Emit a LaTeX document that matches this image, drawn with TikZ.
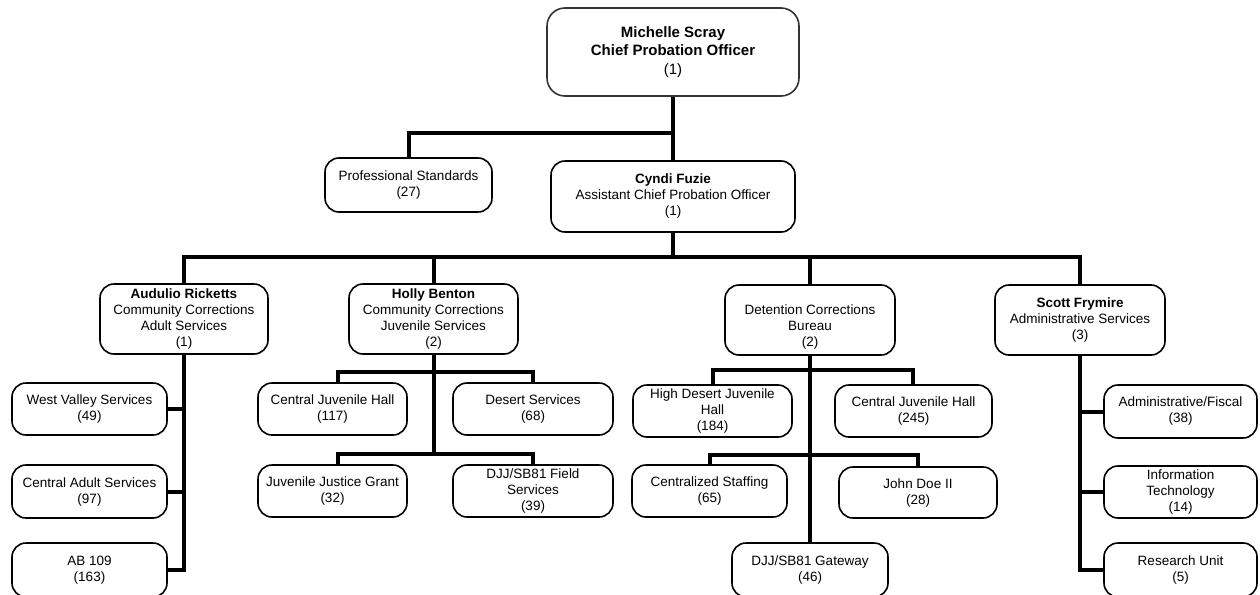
\documentclass[tikz,border=0pt]{standalone}
\usepackage{fontspec}
\setmainfont{Liberation Sans}
\pgfdeclarelayer{bg}
\pgfsetlayers{bg,main}
\begin{document}
\begin{tikzpicture}[x=1pt,y=-1pt,
  box/.style={draw=black, line width=1.6pt, rounded corners=14pt, fill=white,
    align=center, inner sep=0pt, font=\fontsize{13.5}{16}\selectfont},
  topbox/.style={box, draw=black!80, rounded corners=18pt, font=\fontsize{15}{18.5}\selectfont\bfseries},
  plain/.style={align=center, inner sep=0pt, font=\fontsize{13.5}{16}\selectfont},
  conn/.style={line width=4pt, line cap=rect, line join=miter, draw=black}]
\useasboundingbox (0,0) rectangle (1260,594);

% top
\node[topbox, minimum width=252pt, minimum height=88pt] (chief) at (673,52) {Michelle Scray\\Chief Probation Officer\\{\mdseries (1)}};
\node[box, minimum width=167pt, minimum height=54pt] (prof) at (408.5,185) {Professional Standards\\(27)};
\node[box, minimum width=244pt, minimum height=71pt] (cyndi) at (673,196.5) {\textbf{Cyndi Fuzie}\\Assistant Chief Probation Officer\\(1)};

% level 2
\node[box, minimum width=168pt, minimum height=70pt] (aud) at (184,319) {\textbf{Audulio Ricketts}\\Community Corrections\\Adult Services\\(1)};
\node[box, minimum width=169pt, minimum height=70pt] (holly) at (433.5,319) {\textbf{Holly Benton}\\Community Corrections\\Juvenile Services\\(2)};
\node[box, minimum width=170pt, minimum height=70pt] (det) at (810,320) {};
\node[plain] (dettext) at (810,327) {Detention Corrections\\Bureau\\(2)};
\node[box, minimum width=170pt, minimum height=70pt] (scott) at (1080,320) {\textbf{Scott Frymire}\\Administrative Services\\(3)};

% adult services
\node[box, minimum width=155pt, minimum height=52pt] (wv) at (89.5,409) {West Valley Services\\(49)};
\node[box, minimum width=155pt, minimum height=53pt] (cas) at (89.5,491.5) {Central Adult Services\\(97)};
\node[box, minimum width=155pt, minimum height=54pt] (ab) at (89.5,570) {AB 109\\(163)};

% juvenile services
\node[box, minimum width=149pt, minimum height=52pt] (cjha) at (332.5,409) {Central Juvenile Hall\\(117)};
\node[box, minimum width=160pt, minimum height=52pt] (des) at (533,409) {Desert Services\\(68)};
\node[box, minimum width=149pt, minimum height=52pt] (jjg) at (332.5,491) {Juvenile Justice Grant\\(32)};
\node[box, minimum width=160pt, minimum height=52pt] (djj) at (533,491) {DJJ/SB81 Field\\Services\\(39)};

% detention
\node[box, minimum width=159pt, minimum height=52pt] (hdjh) at (712.5,411) {High Desert Juvenile\\Hall\\(184)};
\node[box, minimum width=157pt, minimum height=52pt] (cjhb) at (913.5,411) {Central Juvenile Hall\\(245)};
\node[box, minimum width=155pt, minimum height=52pt] (cs) at (709.5,491) {Centralized Staffing\\(65)};
\node[box, minimum width=158pt, minimum height=51pt] (jd) at (918,492.5) {John Doe II\\(28)};
\node[box, minimum width=156pt, minimum height=54pt] (gw) at (810,570) {DJJ/SB81 Gateway\\(46)};

% administrative
\node[box, minimum width=153pt, minimum height=53pt] (af) at (1180.5,411.5) {Administrative/Fiscal\\(38)};
\node[box, minimum width=153pt, minimum height=52pt] (it) at (1180.5,492) {Information\\Technology\\(14)};
\node[box, minimum width=153pt, minimum height=54pt] (ru) at (1180.5,570) {Research Unit\\(5)};

\coordinate (j1) at (673,133);
\coordinate (j2) at (673,257);
\coordinate (ja) at (184,257);
\coordinate (jf) at (1080,257);
\coordinate (hj1) at (338,372);
\coordinate (hj2) at (533,372);
\coordinate (hj3) at (338,454);
\coordinate (hj4) at (533,454);
\coordinate (dj1) at (713,370);
\coordinate (dj2) at (913,370);
\coordinate (dj3) at (710,455);
\coordinate (dj4) at (918,455);

\begin{pgfonlayer}{bg}
  \draw[conn] (chief.south) -- (cyndi.north);
  \draw[conn] (j1) -- (j1 -| prof.north) -- (prof.north);
  \draw[conn] (cyndi.south) -- (j2);
  \draw[conn] (ja) -- (jf);
  \draw[conn] (ja) -- (aud.north);
  \draw[conn] (holly.north |- ja) -- (holly.north);
  \draw[conn] (det.north |- ja) -- (det.north);
  \draw[conn] (jf) -- (scott.north);
  % adult
  \draw[conn] (aud.south) -- (aud.south |- ab.east) -- (ab.east);
  \draw[conn] (aud.south |- wv.east) -- (wv.east);
  \draw[conn] (aud.south |- cas.east) -- (cas.east);
  % juvenile
  \draw[conn] (holly.south) -- (holly.south |- hj3);
  \draw[conn] (cjha.north -| hj1) -- (hj1) -- (hj2) -- (des.north);
  \draw[conn] (jjg.north -| hj3) -- (hj3) -- (hj4) -- (djj.north);
  % detention
  \draw[conn] (det.south) -- (gw.north);
  \draw[conn] (hdjh.north -| dj1) -- (dj1) -- (dj2) -- (cjhb.north -| dj2);
  \draw[conn] (cs.north -| dj3) -- (dj3) -- (dj4) -- (jd.north -| dj4);
  % administrative
  \draw[conn] (scott.south) -- (scott.south |- ru.west) -- (ru.west);
  \draw[conn] (scott.south |- af.west) -- (af.west);
  \draw[conn] (scott.south |- it.west) -- (it.west);
\end{pgfonlayer}
\end{tikzpicture}
\end{document}
